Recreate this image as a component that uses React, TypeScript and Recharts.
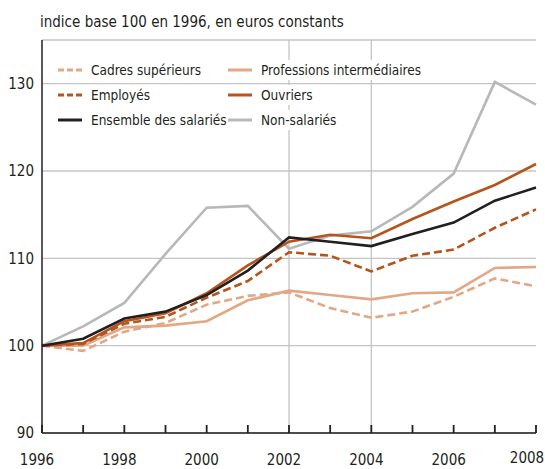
import React from "react"
import { LineChart, Line, XAxis, YAxis, CartesianGrid, ReferenceLine, Legend } from "recharts"

const years = [1996, 1997, 1998, 1999, 2000, 2001, 2002, 2003, 2004, 2005, 2006, 2007, 2008]
const cadres = [100, 99.4, 101.6, 102.6, 104.7, 105.7, 106.1, 104.3, 103.2, 103.9, 105.6, 107.7, 106.8]
const professions = [100, 100.0, 102.1, 102.3, 102.8, 105.2, 106.3, 105.8, 105.3, 106.0, 106.1, 108.9, 109.0]
const employes = [100, 100.2, 102.5, 103.3, 105.5, 107.4, 110.7, 110.3, 108.5, 110.3, 111.0, 113.5, 115.6]
const ouvriers = [100, 100.3, 102.8, 103.7, 106.0, 109.2, 111.9, 112.7, 112.3, 114.5, 116.5, 118.4, 120.8]
const ensemble = [100, 100.8, 103.1, 103.9, 105.8, 108.6, 112.4, 111.9, 111.4, 112.8, 114.1, 116.6, 118.1]
const nonSalaries = [100, 102.2, 104.9, 110.5, 115.8, 116.0, 111.1, 112.6, 113.1, 115.9, 119.7, 130.2, 127.6]

const yTicks = [90, 100, 110, 120, 130]
const markedYears = [2002, 2004]

const PEACH = "#E2A784"
const RUST = "#B5541C"
const INK = "#231F20"
const GREY = "#B8B8B8"
const FONT = "'DejaVu Sans Condensed', 'Liberation Sans Narrow', sans-serif"

// legend order (row by row, two columns)
const series = [
  { key: "cadres", name: "Cadres supérieurs", color: PEACH, dash: true },
  { key: "professions", name: "Professions intermédiaires", color: PEACH, dash: false },
  { key: "employes", name: "Employés", color: RUST, dash: true },
  { key: "ouvriers", name: "Ouvriers", color: RUST, dash: false },
  { key: "ensemble", name: "Ensemble des salariés", color: INK, dash: false },
  { key: "nonSalaries", name: "Non-salariés", color: GREY, dash: false },
]
const drawOrder = ["nonSalaries", "professions", "cadres", "employes", "ouvriers", "ensemble"]

const data = years.map((year, i) => ({
  year,
  cadres: cadres[i],
  professions: professions[i],
  employes: employes[i],
  ouvriers: ouvriers[i],
  ensemble: ensemble[i],
  nonSalaries: nonSalaries[i],
}))

// year tick: short inward mark on every year, label on even years
const YearTick = (props: any) => {
  const { x, y, payload } = props
  const year = payload.value
  const last = year === years[years.length - 1]
  const cx = Number(x)
  const cy = Number(y)
  return (
    <g className="year-tick">
      <path d={`M${cx},${cy} L${cx},${cy - 8}`} stroke={INK} strokeWidth={1.8} fill="none" />
      {year % 2 === 0 && (
        <text x={cx - (last ? 9 : 5)} y={cy + (last ? 30 : 32)} textAnchor="middle" fill={INK} fontSize={15} fontFamily={FONT}>
          {year}
        </text>
      )}
    </g>
  )
}

const LegendBox = () => (
  <div style={{ display: "grid", gridTemplateColumns: "170px auto", gridAutoRows: "25px", fontFamily: FONT, fontSize: 13.5, color: INK, whiteSpace: "nowrap" }}>
    {series.map((s) => (
      <div key={s.key} style={{ display: "flex", alignItems: "center", height: 25 }}>
        <div style={{ display: "flex", alignItems: "center", height: 20, background: "#fff", paddingRight: 2 }}>
          <svg width={24} height={6} style={{ marginRight: 9 }}>
            <line x1={0} y1={3} x2={24} y2={3} stroke={s.color} strokeWidth={3} strokeDasharray={s.dash ? "6 3" : undefined} />
          </svg>
          <span>{s.name}</span>
        </div>
      </div>
    ))}
  </div>
)

export default function App() {
  return (
    <div style={{ position: "absolute", left: 0, top: 0, width: 545, height: 469, background: "#fff" }}>
      <div style={{ position: "absolute", left: 40, top: 13, fontFamily: FONT, fontSize: 15, lineHeight: "18px", color: INK, whiteSpace: "nowrap" }}>
        indice base 100 en 1996, en euros constants
      </div>
      <LineChart width={545} height={469} data={data} margin={{ top: 40, right: 9, bottom: 35, left: 0 }}>
        <CartesianGrid vertical={false} stroke="#C4C4C4" strokeWidth={1.3} />
        {markedYears.map((y) => (
          <ReferenceLine key={y} x={y} stroke="#C4C4C4" strokeWidth={1.3} />
        ))}
        <YAxis
          domain={[90, 135]}
          ticks={yTicks}
          width={42}
          tickLine={false}
          tickSize={0}
          tickMargin={8}
          axisLine={{ stroke: INK, strokeWidth: 1.5 }}
          tick={{ fill: INK, fontSize: 15, fontFamily: FONT }}
        />
        <Legend
          content={<LegendBox />}
          layout="horizontal"
          verticalAlign="top"
          align="left"
          wrapperStyle={{ top: 57, left: 58, width: 420, height: 0, overflow: "visible" }}
        />
        {drawOrder.map((k) => {
          const s = series.find((d) => d.key === k)!
          return (
            <Line
              key={k}
              dataKey={k}
              name={s.name}
              stroke={s.color}
              strokeWidth={2.6}
              strokeDasharray={s.dash ? "8 4" : undefined}
              dot={false}
              activeDot={false}
              type="linear"
              isAnimationActive={false}
            />
          )
        })}
        <XAxis
          dataKey="year"
          type="number"
          domain={[1996, 2008]}
          ticks={years}
          height={1}
          tickLine={false}
          tickSize={0}
          tickMargin={0}
          tick={<YearTick />}
          axisLine={{ stroke: INK, strokeWidth: 1.5 }}
          interval={0}
        />
      </LineChart>
    </div>
  )
}
